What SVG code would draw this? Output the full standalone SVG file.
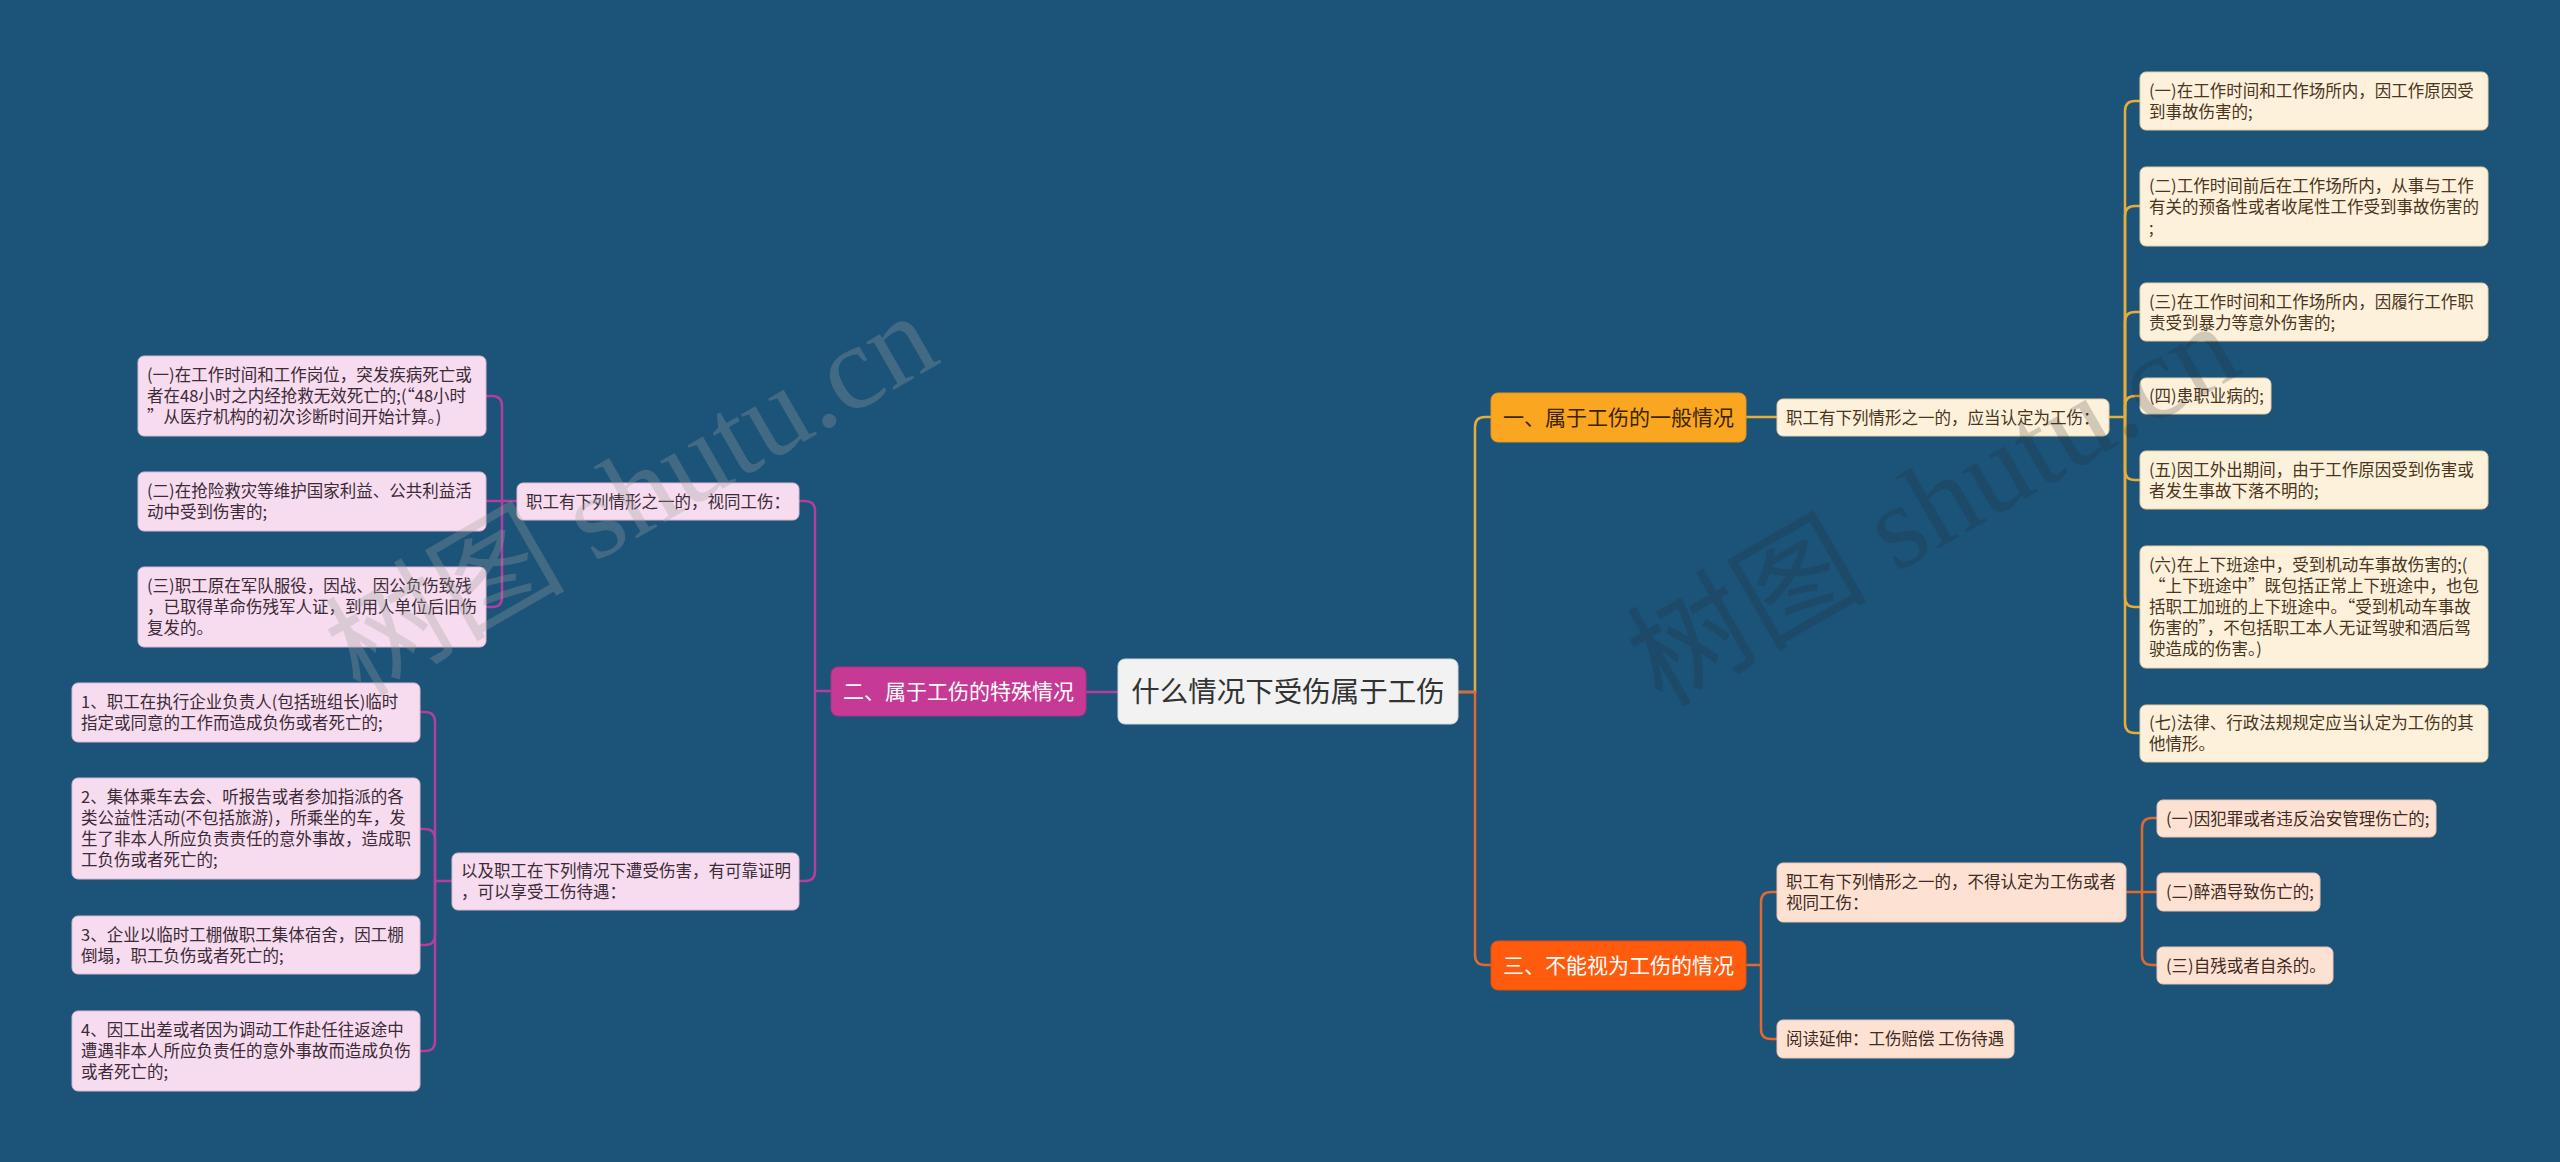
<svg xmlns="http://www.w3.org/2000/svg" width="2560" height="1162" viewBox="0 0 2560 1162">
<style>
text{font-family:"Noto Sans CJK SC","Liberation Sans",sans-serif;}
.lf{font-size:16.5px;}
.fw{font-feature-settings:"fwid" 1;}
.c1 rect{fill:#fdf1dc;stroke:#e6cfa2;stroke-width:1;}
.c1 text{fill:#4a3520;}
.c3 rect{fill:#fde2d4;stroke:#eec4b0;stroke-width:1;}
.c3 text{fill:#402a22;}
.c2 rect{fill:#f6dcee;stroke:#dcb8d2;stroke-width:1;}
.c2 text{fill:#3b2a37;}
.br{font-size:21px;}
.g{fill:none;stroke:#e5ad3a;stroke-width:2.5;}
.o{fill:none;stroke:#e0692f;stroke-width:2.5;}
.p{fill:none;stroke:#b23ea0;stroke-width:2.5;}
.wm{font-family:"Liberation Serif","Noto Sans CJK SC",serif;font-size:120px;}
</style>
<rect x="0" y="0" width="2560" height="1162" fill="#1b5379"/>

<g id="connectors">
<path class="g" d="M1458 692 H1475 V427 Q1475 417 1485 417 H1491"/>
<path class="o" d="M1458 692 H1475 V955 Q1475 965 1485 965 H1491"/>
<path class="p" d="M1118 692 H1086"/>
<path class="g" d="M1746 417 H1777"/>
<path class="g" d="M2109 417 H2125"/>
<path class="g" d="M2125 417 V111 Q2125 101 2135 101 H2140"/>
<path class="g" d="M2125 417 V216 Q2125 206 2135 206 H2140"/>
<path class="g" d="M2125 417 V322 Q2125 312 2135 312 H2140"/>
<path class="g" d="M2125 417 V406 Q2125 396 2135 396 H2140"/>
<path class="g" d="M2125 417 V470 Q2125 480 2135 480 H2140"/>
<path class="g" d="M2125 417 V597 Q2125 607 2135 607 H2140"/>
<path class="g" d="M2125 417 V723 Q2125 733 2135 733 H2140"/>
<path class="o" d="M1746 965 H1761"/>
<path class="o" d="M1761 965 V902 Q1761 892 1771 892 H1777"/>
<path class="o" d="M1761 965 V1029 Q1761 1039 1771 1039 H1777"/>
<path class="o" d="M2126 892 H2142"/>
<path class="o" d="M2142 892 V828 Q2142 818 2152 818 H2157"/>
<path class="o" d="M2142 892 H2157"/>
<path class="o" d="M2142 892 V955 Q2142 965 2152 965 H2157"/>
<path class="p" d="M831 691 H815"/>
<path class="p" d="M815 691 V511 Q815 501 805 501 H799"/>
<path class="p" d="M815 691 V871 Q815 881 805 881 H799"/>
<path class="p" d="M517 501 H502"/>
<path class="p" d="M502 501 V406 Q502 396 492 396 H486"/>
<path class="p" d="M502 501 H486"/>
<path class="p" d="M502 501 V597 Q502 607 492 607 H486"/>
<path class="p" d="M452 881 H435"/>
<path class="p" d="M435 881 V722 Q435 712 425 712 H420"/>
<path class="p" d="M435 881 V839 Q435 829 425 829 H420"/>
<path class="p" d="M435 881 V935 Q435 945 425 945 H420"/>
<path class="p" d="M435 881 V1041 Q435 1051 425 1051 H420"/>
</g>

<g id="root">
<rect x="1118" y="659" width="340" height="65" rx="7" fill="#f2f2f2" stroke="#d6d6d6"/>
<text x="1288" y="701.5" font-size="28.5" text-anchor="middle" fill="#333">什么情况下受伤属于工伤</text>
</g>

<g id="b1">
<rect x="1491" y="393" width="255" height="49" rx="7" fill="#fba620" stroke="#e8941a"/>
<text class="br" x="1618.5" y="425" text-anchor="middle" fill="#3a2500">一、属于工伤的一般情况</text>
</g>
<g id="b3">
<rect x="1491" y="941" width="255" height="49" rx="7" fill="#fe5b0e" stroke="#e84f08"/>
<text class="br" x="1618.5" y="973" text-anchor="middle" fill="#ffffff">三、不能视为工伤的情况</text>
</g>
<g id="b2">
<rect x="831" y="667" width="255" height="49" rx="7" fill="#c63a96" stroke="#b03085"/>
<text class="br" x="958.5" y="699" text-anchor="middle" fill="#ffffff">二、属于工伤的特殊情况</text>
</g>

<g id="s1" class="c1 lf">
<rect x="1777" y="399" width="332" height="37" rx="6"/>
<text x="1786" y="423.5">职工有下列情形之一的，应当认定为工伤：</text>
</g>
<g id="l1-1" class="c1 lf">
<rect x="2140" y="72" width="348" height="58" rx="6"/>
<text x="2149" y="96.5">(一)在工作时间和工作场所内，因工作原因受</text>
<text x="2149" y="117.5">到事故伤害的;</text>
</g>
<g id="l1-2" class="c1 lf">
<rect x="2140" y="167" width="348" height="79" rx="6"/>
<text x="2149" y="191.5">(二)工作时间前后在工作场所内，从事与工作</text>
<text x="2149" y="212.5">有关的预备性或者收尾性工作受到事故伤害的</text>
<text x="2149" y="233.5">;</text>
</g>
<g id="l1-3" class="c1 lf">
<rect x="2140" y="283" width="348" height="58" rx="6"/>
<text x="2149" y="307.5">(三)在工作时间和工作场所内，因履行工作职</text>
<text x="2149" y="328.5">责受到暴力等意外伤害的;</text>
</g>
<g id="l1-4" class="c1 lf">
<rect x="2140" y="378" width="131" height="36" rx="6"/>
<text x="2149" y="402">(四)患职业病的;</text>
</g>
<g id="l1-5" class="c1 lf">
<rect x="2140" y="451" width="348" height="58" rx="6"/>
<text x="2149" y="475.5">(五)因工外出期间，由于工作原因受到伤害或</text>
<text x="2149" y="496.5">者发生事故下落不明的;</text>
</g>
<g id="l1-6" class="c1 lf">
<rect x="2140" y="546" width="348" height="122" rx="6"/>
<text x="2149" y="571">(六)在上下班途中，受到机动车事故伤害的;(</text>
<text x="2149" y="592"><tspan class="fw">“</tspan>上下班途中<tspan class="fw">”</tspan>既包括正常上下班途中，也包</text>
<text x="2149" y="613">括职工加班的上下班途中。<tspan class="fw">“</tspan>受到机动车事故</text>
<text x="2149" y="634">伤害的<tspan class="fw">”</tspan>，不包括职工本人无证驾驶和酒后驾</text>
<text x="2149" y="655">驶造成的伤害。)</text>
</g>
<g id="l1-7" class="c1 lf">
<rect x="2140" y="705" width="348" height="57" rx="6"/>
<text x="2149" y="729">(七)法律、行政法规规定应当认定为工伤的其</text>
<text x="2149" y="750">他情形。</text>
</g>

<g id="s3a" class="c3 lf">
<rect x="1777" y="863" width="349" height="59" rx="6"/>
<text x="1786" y="888">职工有下列情形之一的，不得认定为工伤或者</text>
<text x="1786" y="909">视同工伤：</text>
</g>
<g id="s3b" class="c3 lf">
<rect x="1777" y="1020" width="237" height="38" rx="6"/>
<text x="1786" y="1045">阅读延伸：工伤赔偿 工伤待遇</text>
</g>
<g id="l3-1" class="c3 lf">
<rect x="2157" y="800" width="279" height="37" rx="6"/>
<text x="2166" y="824.5">(一)因犯罪或者违反治安管理伤亡的;</text>
</g>
<g id="l3-2" class="c3 lf">
<rect x="2157" y="873" width="163" height="38" rx="6"/>
<text x="2166" y="898">(二)醉酒导致伤亡的;</text>
</g>
<g id="l3-3" class="c3 lf">
<rect x="2157" y="947" width="176" height="37" rx="6"/>
<text x="2166" y="971.5">(三)自残或者自杀的。</text>
</g>

<g id="s2a" class="c2 lf">
<rect x="517" y="483" width="282" height="37" rx="6"/>
<text x="526" y="507.5">职工有下列情形之一的，视同工伤：</text>
</g>
<g id="l2a-1" class="c2 lf">
<rect x="138" y="356" width="348" height="80" rx="6"/>
<text x="147" y="381">(一)在工作时间和工作岗位，突发疾病死亡或</text>
<text x="147" y="402">者在48小时之内经抢救无效死亡的;(<tspan class="fw">“</tspan>48小时</text>
<text x="147" y="423"><tspan class="fw">”</tspan>从医疗机构的初次诊断时间开始计算。)</text>
</g>
<g id="l2a-2" class="c2 lf">
<rect x="138" y="472" width="348" height="59" rx="6"/>
<text x="147" y="497">(二)在抢险救灾等维护国家利益、公共利益活</text>
<text x="147" y="518">动中受到伤害的;</text>
</g>
<g id="l2a-3" class="c2 lf">
<rect x="138" y="567" width="348" height="80" rx="6"/>
<text x="147" y="592">(三)职工原在军队服役，因战、因公负伤致残</text>
<text x="147" y="613">，已取得革命伤残军人证，到用人单位后旧伤</text>
<text x="147" y="634">复发的。</text>
</g>

<g id="s2b" class="c2 lf">
<rect x="452" y="853" width="347" height="57" rx="6"/>
<text x="461" y="877">以及职工在下列情况下遭受伤害，有可靠证明</text>
<text x="461" y="898">，可以享受工伤待遇：</text>
</g>
<g id="l2b-1" class="c2 lf">
<rect x="72" y="683" width="348" height="59" rx="6"/>
<text x="81" y="708">1、职工在执行企业负责人(包括班组长)临时</text>
<text x="81" y="729">指定或同意的工作而造成负伤或者死亡的;</text>
</g>
<g id="l2b-2" class="c2 lf">
<rect x="72" y="778" width="348" height="101" rx="6"/>
<text x="81" y="803">2、集体乘车去会、听报告或者参加指派的各</text>
<text x="81" y="824">类公益性活动(不包括旅游)，所乘坐的车，发</text>
<text x="81" y="845">生了非本人所应负责责任的意外事故，造成职</text>
<text x="81" y="866">工负伤或者死亡的;</text>
</g>
<g id="l2b-3" class="c2 lf">
<rect x="72" y="916" width="348" height="58" rx="6"/>
<text x="81" y="940.5">3、企业以临时工棚做职工集体宿舍，因工棚</text>
<text x="81" y="961.5">倒塌，职工负伤或者死亡的;</text>
</g>
<g id="l2b-4" class="c2 lf">
<rect x="72" y="1011" width="348" height="80" rx="6"/>
<text x="81" y="1036">4、因工出差或者因为调动工作赴任往返途中</text>
<text x="81" y="1057">遭遇非本人所应负责任的意外事故而造成负伤</text>
<text x="81" y="1078">或者死亡的;</text>
</g>

<g id="watermarks">
<text class="wm" x="360" y="698" transform="rotate(-30 360 698)" fill="#a0a0a0" fill-opacity="0.3">树图 shutu.cn</text>
<text class="wm" x="1662" y="708" transform="rotate(-30 1662 708)" fill="#282828" fill-opacity="0.2">树图 shutu.cn</text>
</g>
</svg>
